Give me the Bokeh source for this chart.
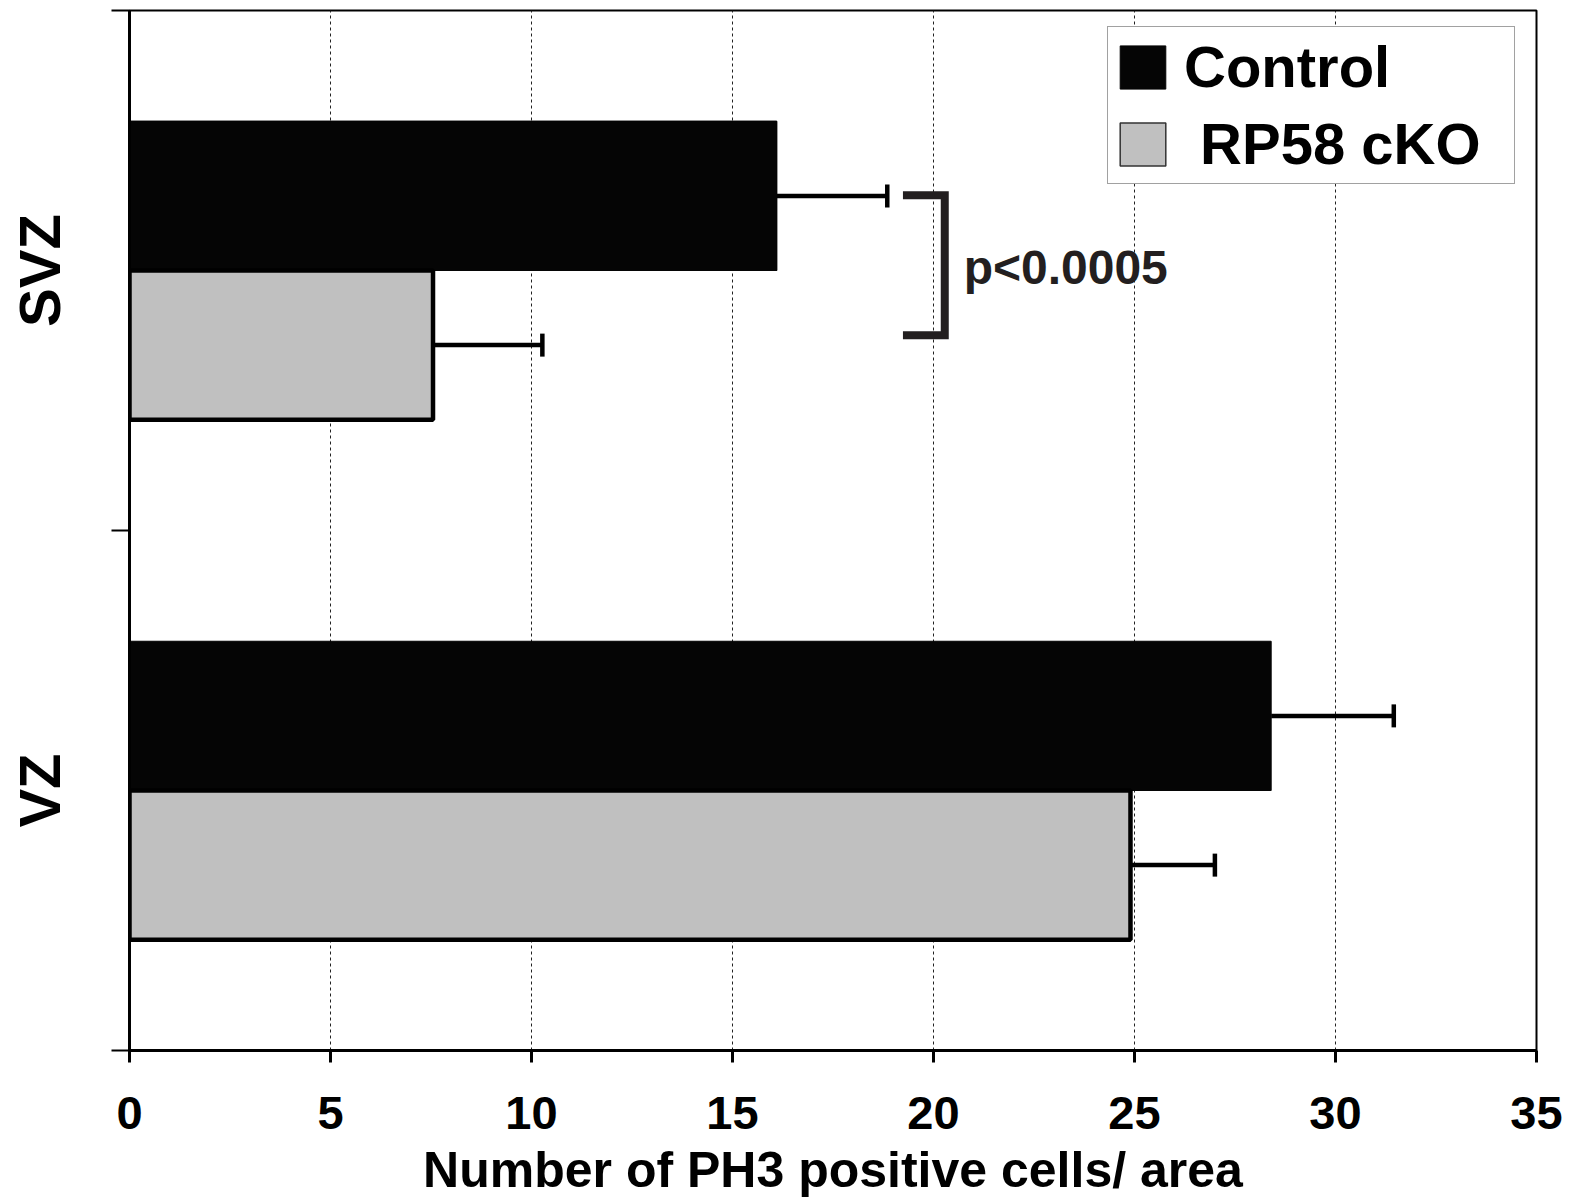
from bokeh.plotting import figure
from bokeh.models import (Range1d, FixedTicker, ColumnDataSource, Whisker, TeeHead,
                          Legend, LegendItem, CDSView, IndexFilter)
from bokeh.core.properties import value
from bokeh.embed import file_html
from bokeh.resources import INLINE

# ---- data ----
categories = ["SVZ", "VZ"]
control = [16.1, 28.4]
control_err = [2.75, 3.05]
cko = [7.55, 24.9]
cko_err = [2.72, 2.1]
x_ticks = [0, 5, 10, 15, 20, 25, 30, 35]
series_names = ["Control", " RP58 cKO"]
p_text = "p<0.0005"

FONT = "Liberation Sans, Arial, sans-serif"
DARK = "#231f20"

n = len(categories)
centers = [n - i - 0.5 for i in range(n)]  # SVZ at top
bar_h = 0.287
off = bar_h / 2

src_c = ColumnDataSource(dict(y=[c + off for c in centers], right=control,
                              upper=[v + e for v, e in zip(control, control_err)]))
src_k = ColumnDataSource(dict(y=[c - off for c in centers], right=cko,
                              upper=[v + e for v, e in zip(cko, cko_err)]))

p = figure(width=1572, height=1200, output_backend="svg", toolbar_location=None,
           x_range=Range1d(0, 35), y_range=Range1d(0, n),
           min_border_left=129, min_border_top=10, min_border_right=36, min_border_bottom=149,
           background_fill_color="white", border_fill_color="white")
p.outline_line_color = "black"
p.outline_line_width = 2

# grid
p.ygrid.grid_line_color = None
p.xgrid.ticker = FixedTicker(ticks=x_ticks[1:-1])
p.xgrid.grid_line_color = "#222222"
p.xgrid.grid_line_dash = "3 3"
p.xgrid.grid_line_width = 1

# legend proxy glyphs: one bar each, drawn first so the real bars cover them
r1 = p.hbar(y="y", right="right", left=0, height=bar_h, source=src_c,
            view=CDSView(filter=IndexFilter(indices=[0])),
            fill_color="#050505", line_color="#050505", line_width=1)
r2 = p.hbar(y="y", right="right", left=0, height=bar_h, source=src_k,
            view=CDSView(filter=IndexFilter(indices=[0])),
            fill_color="#c0c0c0", line_color="#333333", line_width=1.5)

# bars
p.hbar(y="y", right="right", left=0, height=bar_h, source=src_c,
       fill_color="#050505", line_color="#050505", line_width=1)
p.hbar(y="y", right="right", left=0, height=bar_h, source=src_k,
       fill_color="#c0c0c0", line_color="black", line_width=4.5)

# error bars
for src in (src_c, src_k):
    w = Whisker(base="y", lower="right", upper="upper", dimension="width", source=src,
                line_color="black", line_width=4.5, lower_head=None,
                upper_head=TeeHead(size=23, line_color="black", line_width=4.5))
    p.add_layout(w)

# significance bracket
bx = [19.24, 20.28, 20.28, 19.24]
by = [1.6446, 1.6446, 1.3756, 1.3756]
p.line(bx, by, line_width=8, line_color=DARK, line_join="miter", line_cap="butt")
p.text(x=[20.75], y=[1.505], text=[p_text], text_font=value(FONT), text_font_style="bold",
       text_font_size="48px", text_color=DARK, text_baseline="alphabetic", text_align="left")

# x axis
xa = p.xaxis[0]
xa.ticker = FixedTicker(ticks=x_ticks)
xa.axis_line_width = 3
xa.major_tick_line_width = 3
xa.major_tick_out = 12
xa.major_tick_in = 0
xa.minor_tick_line_color = None
xa.major_label_text_font = FONT
xa.major_label_text_font_style = "bold"
xa.major_label_text_font_size = "47px"
xa.major_label_text_color = "black"
xa.major_label_standoff = 34
xa.axis_label = "Number of PH3 positive cells/ area"
xa.axis_label_text_font = FONT
xa.axis_label_text_font_style = "bold"
xa.axis_label_text_font_size = "50px"
xa.axis_label_text_color = "black"
xa.axis_label_standoff = 10

# y axis
ya = p.yaxis[0]
ya.ticker = FixedTicker(ticks=centers, minor_ticks=list(range(n + 1)))
ya.major_label_overrides = {c: cat for c, cat in zip(centers, categories)}
ya.major_label_orientation = "vertical"
ya.major_tick_line_color = None
ya.major_tick_out = 0
ya.major_tick_in = 0
ya.minor_tick_line_color = "black"
ya.minor_tick_line_width = 2
ya.minor_tick_out = 18
ya.minor_tick_in = 0
ya.axis_line_width = 3
ya.major_label_text_font = FONT
ya.major_label_text_font_style = "bold"
ya.major_label_text_font_size = "58px"
ya.major_label_text_color = "black"
ya.major_label_standoff = 40

legend = Legend(items=[LegendItem(label=series_names[0], renderers=[r1]),
                       LegendItem(label=series_names[1], renderers=[r2])],
                location=(978, 866), orientation="vertical",
                glyph_width=57, glyph_height=54, label_standoff=13, label_width=324,
                padding=6, spacing=10, margin=0,
                label_text_font=FONT, label_text_font_style="bold",
                label_text_font_size="58px", label_text_color="black",
                border_line_color="#444444", border_line_width=1.5,
                background_fill_color="white", background_fill_alpha=1.0)
p.add_layout(legend)

open("out.html", "w").write(file_html(p, INLINE))
